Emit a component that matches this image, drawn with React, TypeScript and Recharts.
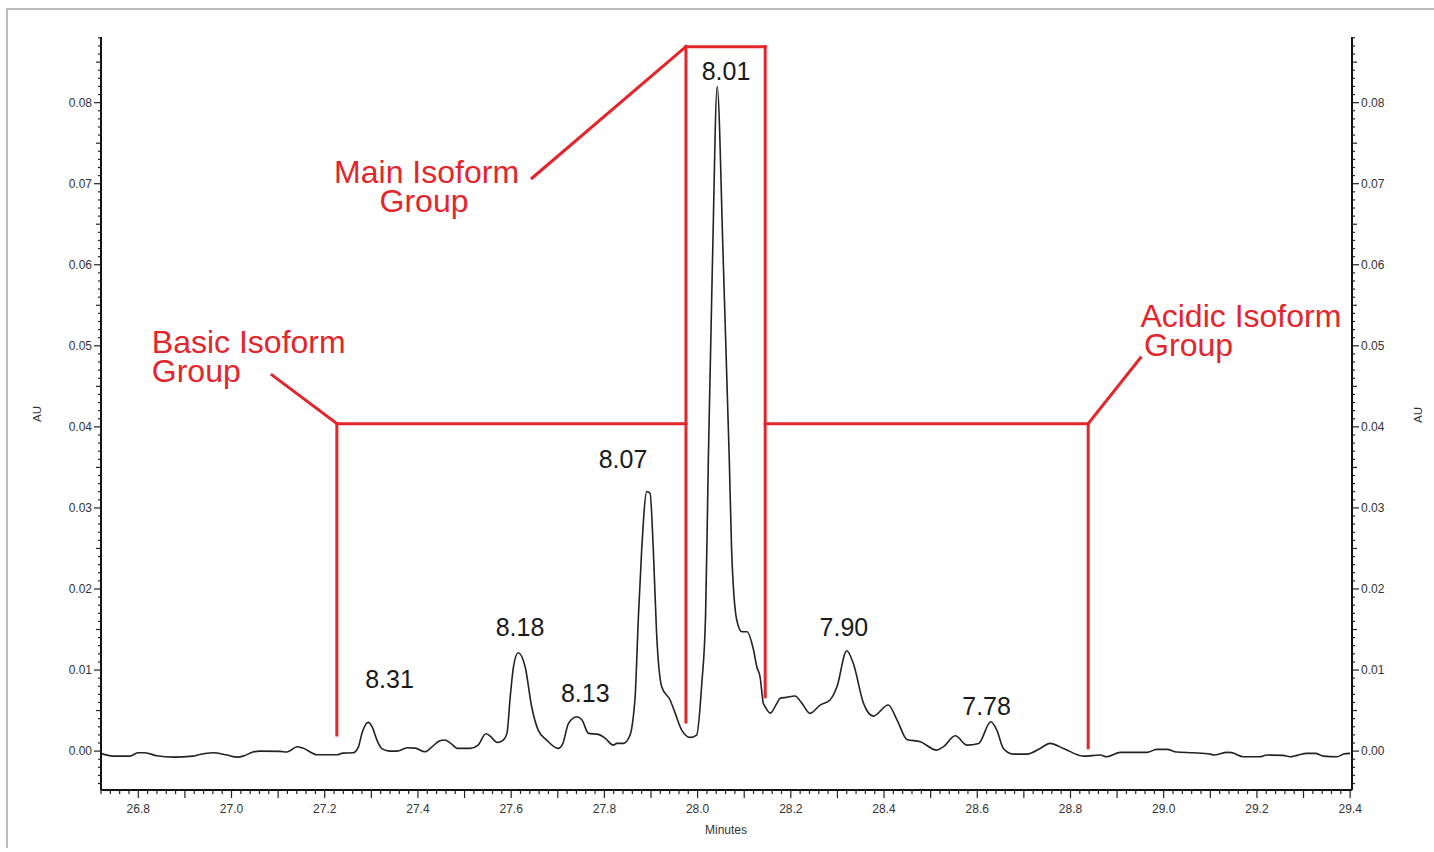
import React from 'react';
import { LineChart, Line, XAxis, YAxis, ReferenceLine, ReferenceDot } from 'recharts';

// Retention time (minutes)
const times = [
  26.720, 26.746, 26.782, 26.799, 26.814, 26.840, 26.875, 26.917, 26.932, 26.960,
  26.990, 27.012, 27.025, 27.046, 27.061, 27.104, 27.119, 27.141, 27.153, 27.184,
  27.226, 27.239, 27.261, 27.272, 27.280, 27.293, 27.302, 27.312, 27.323, 27.340,
  27.355, 27.377, 27.394, 27.415, 27.432, 27.447, 27.458, 27.469, 27.486, 27.512,
  27.529, 27.546, 27.555, 27.570, 27.583, 27.591, 27.598, 27.605, 27.615, 27.630,
  27.644, 27.658, 27.676, 27.701, 27.711, 27.723, 27.741, 27.752, 27.766, 27.787,
  27.802, 27.819, 27.827, 27.841, 27.855, 27.862, 27.866, 27.873, 27.880, 27.891,
  27.898, 27.905, 27.912, 27.923, 27.941, 27.952, 27.966, 27.984, 27.998, 28.009,
  28.017, 28.021, 28.023, 28.032, 28.042, 28.055, 28.068, 28.073, 28.084, 28.095,
  28.106, 28.120, 28.127, 28.134, 28.141, 28.145, 28.156, 28.170, 28.177, 28.191,
  28.209, 28.224, 28.241, 28.263, 28.284, 28.299, 28.320, 28.334, 28.356, 28.377,
  28.409, 28.428, 28.449, 28.478, 28.513, 28.527, 28.553, 28.578, 28.603, 28.629,
  28.642, 28.656, 28.678, 28.706, 28.735, 28.756, 28.785, 28.828, 28.864, 28.878,
  28.907, 28.964, 28.985, 29.007, 29.028, 29.064, 29.100, 29.107, 29.136, 29.146,
  29.171, 29.206, 29.221, 29.256, 29.271, 29.286, 29.307, 29.325, 29.343, 29.372,
  29.386, 29.400,
];

// Absorbance (AU)
const absorbance = [
  -0.00028, -0.00062, -0.00062, -0.00021, -0.00021, -0.00058, -0.00074, -0.00062, -0.00041, -0.00021,
  -0.00049, -0.00074, -0.00062, -0.00012, 0.00000, -0.00004, -0.00012, 0.00053, 0.00037, -0.00046,
  -0.00046, -0.00025, -0.00021, 0.00049, 0.00222, 0.00354, 0.00296, 0.00136, 0.00028, 0.00000,
  0.00000, 0.00041, 0.00037, -0.00009, 0.00062, 0.00127, 0.00136, 0.00102, 0.00033, 0.00033,
  0.00074, 0.00214, 0.00185, 0.00107, 0.00136, 0.00219, 0.00670, 0.01041, 0.01214, 0.01041,
  0.00547, 0.00259, 0.00136, 0.00033, 0.00095, 0.00342, 0.00423, 0.00383, 0.00219, 0.00206,
  0.00157, 0.00074, 0.00095, 0.00095, 0.00198, 0.00423, 0.00670, 0.01658, 0.02481, 0.03201,
  0.03181, 0.02481, 0.01453, 0.00794, 0.00630, 0.00465, 0.00259, 0.00169, 0.00198, 0.00836,
  0.01658, 0.02893, 0.03593, 0.06062, 0.08198, 0.06062, 0.03593, 0.02481, 0.01617, 0.01473,
  0.01473, 0.01247, 0.01041, 0.00917, 0.00589, 0.00547, 0.00469, 0.00589, 0.00651, 0.00663,
  0.00679, 0.00589, 0.00465, 0.00568, 0.00630, 0.00794, 0.01238, 0.01083, 0.00589, 0.00432,
  0.00568, 0.00383, 0.00144, 0.00115, 0.00012, 0.00053, 0.00189, 0.00074, 0.00095, 0.00362,
  0.00259, 0.00033, -0.00037, -0.00037, 0.00033, 0.00095, 0.00033, -0.00062, -0.00049, -0.00070,
  -0.00016, -0.00016, 0.00021, 0.00021, -0.00012, -0.00021, -0.00037, -0.00049, -0.00016, -0.00019,
  -0.00070, -0.00070, -0.00049, -0.00053, -0.00070, -0.00053, -0.00028, -0.00028, -0.00062, -0.00070,
  -0.00037, -0.00028,
];

// Axis ranges and labelled ticks
const xDomain = [26.72, 29.404];
const yDomain = [-0.0048, 0.0881];
const xTickLabels = [26.8, 27.0, 27.2, 27.4, 27.6, 27.8, 28.0, 28.2, 28.4, 28.6, 28.8, 29.0, 29.2, 29.4];
const yTickLabels = [0.0, 0.01, 0.02, 0.03, 0.04, 0.05, 0.06, 0.07, 0.08];

// Peak pI labels
const peakText = ['8.31', '8.18', '8.13', '8.07', '8.01', '7.90', '7.78'];
const peakX = [27.339, 27.619, 27.759, 27.840, 28.061, 28.314, 28.620];
const peakY = [0.00889, 0.01525, 0.00722, 0.03605, 0.08395, 0.01525, 0.00558];

// Group annotations
const groupText = ['Main Isoform', 'Group', 'Basic Isoform', 'Group', 'Acidic Isoform', 'Group'];
const groupX = [27.4185, 27.413, 26.829, 26.829, 28.95, 28.958];
const groupY = [0.07013, 0.06654, 0.04914, 0.04556, 0.05235, 0.04877];
const groupAnchor = ['middle', 'middle', 'start', 'start', 'start', 'start'];

// Bracket segments [x1, y1, x2, y2]
const bracketSegments = [
  [27.226, 0.0404, 27.226, 0.0020],
  [27.226, 0.0404, 27.975, 0.0404],
  [27.226, 0.0404, 27.087, 0.0464],
  [27.975, 0.0869, 27.975, 0.0036],
  [27.975, 0.0869, 28.145, 0.0869],
  [28.145, 0.0869, 28.145, 0.0067],
  [27.975, 0.0869, 27.645, 0.0707],
  [28.145, 0.0404, 28.838, 0.0404],
  [28.838, 0.0404, 28.838, 0.0004],
  [28.838, 0.0404, 28.950, 0.0485],
];

const data = times.map((t, i) => ({ t, au: absorbance[i] }));

const xTicks: number[] = [];
for (let k = 1336; k <= 1470; k++) xTicks.push(k / 50);
const yTicks: number[] = [];
for (let k = -4; k <= 88; k++) yTicks.push(k / 1000);

const FONT = 'Liberation Sans, Arial, Helvetica, sans-serif';
const RED = '#e2262b';

const XTick = (props: any) => {
  const { x, y, payload } = props;
  const v = payload.value as number;
  const k = Math.round(v * 100);
  const major = k % 10 === 0;
  const labeled = xTickLabels.some((l) => Math.abs(l - v) < 1e-6);
  return (
    <g>
      <line x1={x} y1={y} x2={x} y2={y + (major ? 8 : 4)} stroke="#222" strokeWidth={1.2} />
      {labeled && (
        <text x={x} y={y + 19} textAnchor="middle" dominantBaseline="central" fontSize={12} fill="#333" fontFamily={FONT}>
          {v.toFixed(1)}
        </text>
      )}
    </g>
  );
};

const makeYTick = (side: 'left' | 'right') => (props: any) => {
  const { x, y, payload } = props;
  const v = payload.value as number;
  const k = Math.round(v * 1000);
  const labeled = yTickLabels.some((l) => Math.abs(l - v) < 1e-7);
  const mid = k % 5 === 0;
  const len = labeled ? 7 : mid ? 5 : 3;
  const dir = side === 'left' ? -1 : 1;
  return (
    <g>
      <line x1={x} y1={y} x2={x + dir * len} y2={y} stroke="#222" strokeWidth={1.2} />
      {labeled && (
        <text x={x + dir * 9} y={y} textAnchor={side === 'left' ? 'end' : 'start'} dominantBaseline="central" fontSize={12} fill="#333" fontFamily={FONT}>
          {v.toFixed(2)}
        </text>
      )}
    </g>
  );
};

export default function App() {
  return (
    <div>
      <div
        style={{
          position: 'absolute',
          left: 6,
          top: 8,
          width: 1426,
          height: 838,
          borderTop: '2px solid #bdbdbd',
          borderLeft: '2px solid #bdbdbd',
          pointerEvents: 'none',
        }}
      />
      <LineChart width={1420} height={832} data={data} margin={{ top: 29, right: 0, bottom: 0, left: 0 }}>
        <XAxis
          dataKey="t"
          type="number"
          domain={xDomain}
          allowDataOverflow
          ticks={xTicks}
          interval={0}
          tickSize={0}
          tickMargin={0}
          tickLine={false}
          tick={XTick}
          height={50}
          axisLine={{ stroke: '#111', strokeWidth: 2 }}
          label={(p: any) => (
            <text x={718} y={822} textAnchor="middle" dominantBaseline="central" fontSize={12} fill="#333" fontFamily={FONT}>
              Minutes
            </text>
          )}
        />
        <XAxis
          xAxisId="top"
          orientation="top"
          dataKey="t"
          type="number"
          domain={xDomain}
          allowDataOverflow
          height={0}
          tick={false}
          tickLine={false}
          axisLine={{ stroke: '#111', strokeWidth: 2 }}
        />
        <YAxis
          yAxisId="left"
          type="number"
          domain={yDomain}
          allowDataOverflow
          ticks={yTicks}
          interval={0}
          tickSize={0}
          tickMargin={0}
          tickLine={false}
          tick={makeYTick('left')}
          width={93}
          axisLine={{ stroke: '#111', strokeWidth: 2 }}
          label={(p: any) => (
            <text x={29} y={406} textAnchor="middle" dominantBaseline="central" fontSize={11.5} fill="#333" fontFamily={FONT} transform="rotate(-90 29 406)">
              AU
            </text>
          )}
        />
        <YAxis
          yAxisId="right"
          orientation="right"
          type="number"
          domain={yDomain}
          allowDataOverflow
          ticks={yTicks}
          interval={0}
          tickSize={0}
          tickMargin={0}
          tickLine={false}
          tick={makeYTick('right')}
          width={76}
          axisLine={{ stroke: '#111', strokeWidth: 2 }}
          label={(p: any) => (
            <text x={1410} y={407} textAnchor="middle" dominantBaseline="central" fontSize={11.5} fill="#333" fontFamily={FONT} transform="rotate(-90 1410 407)">
              AU
            </text>
          )}
        />
        {bracketSegments.map((s, i) => (
          <ReferenceLine
            key={'seg' + i}
            yAxisId="left"
            segment={[{ x: s[0], y: s[1] }, { x: s[2], y: s[3] }]}
            stroke={RED}
            strokeWidth={3}
            strokeLinecap="square"
            ifOverflow="visible"
          />
        ))}
        <Line
          yAxisId="left"
          type="monotone"
          dataKey="au"
          stroke="#222"
          strokeWidth={1.6}
          dot={false}
          activeDot={false}
          isAnimationActive={false}
        />
        {peakText.map((txt, i) => (
          <ReferenceDot
            key={'pk' + i}
            yAxisId="left"
            x={peakX[i]}
            y={peakY[i]}
            r={0}
            fill="none"
            stroke="none"
            ifOverflow="visible"
            label={(p: any) => (
              <text
                x={p.viewBox.x + (p.viewBox.width || 0) / 2}
                y={p.viewBox.y + (p.viewBox.height || 0) / 2}
                textAnchor="middle"
                dominantBaseline="central"
                fontSize={25}
                fill="#1a1a1a"
                fontFamily={FONT}
              >
                {txt}
              </text>
            )}
          />
        ))}
        {groupText.map((txt, i) => (
          <ReferenceDot
            key={'gp' + i}
            yAxisId="left"
            x={groupX[i]}
            y={groupY[i]}
            r={0}
            fill="none"
            stroke="none"
            ifOverflow="visible"
            label={(p: any) => (
              <text
                x={p.viewBox.x + (p.viewBox.width || 0) / 2}
                y={p.viewBox.y + (p.viewBox.height || 0) / 2}
                textAnchor={groupAnchor[i] as any}
                fontSize={32}
                fill={RED}
                fontFamily={FONT}
              >
                {txt}
              </text>
            )}
          />
        ))}
      </LineChart>
    </div>
  );
}
